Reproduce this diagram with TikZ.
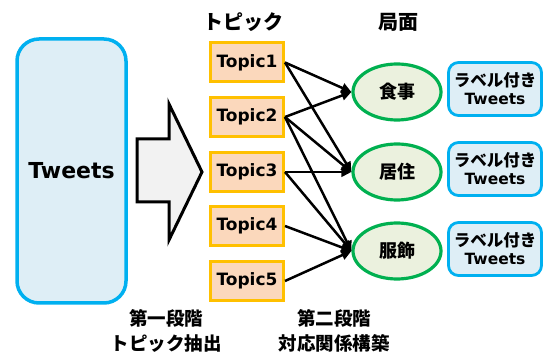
\documentclass[tikz,border=0pt]{standalone}
\usepackage{fontspec}
\setmainfont{DejaVu Sans}
\newfontfamily\jp{Noto Sans CJK JP}
\usetikzlibrary{shapes.geometric,arrows.meta}
\definecolor{cyanb}{HTML}{00B0F0}
\definecolor{bluef}{HTML}{DEEEF6}
\definecolor{gold}{HTML}{FFC000}
\definecolor{peach}{HTML}{FBD8BC}
\definecolor{greenb}{HTML}{00B050}
\definecolor{greenf}{HTML}{EBF1DE}
\definecolor{grayf}{HTML}{F2F2F2}
\tikzset{
  tweetsbox/.style={draw=cyanb, fill=bluef, line width=3.5pt, rounded corners=22pt,
    minimum width=109pt, minimum height=264pt, inner sep=0pt,
    font=\fontsize{22}{26}\selectfont\bfseries},
  topicbox/.style={draw=gold, fill=peach, line width=3pt, minimum width=73pt,
    minimum height=39pt, inner sep=0pt, font=\fontsize{17}{20}\selectfont\bfseries},
  aspect/.style={ellipse, draw=greenb, fill=greenf, line width=3.2pt, minimum width=88pt,
    minimum height=56pt, inner sep=0pt, font=\fontsize{18}{20}\selectfont\jp\bfseries},
  labelbox/.style={draw=cyanb, fill=bluef, line width=2.8pt, rounded corners=10pt,
    minimum width=93pt, minimum height=53pt, inner sep=0pt, align=center,
    font=\fontsize{15.5}{18}\selectfont\bfseries},
  title/.style={font=\fontsize{20}{24}\selectfont\jp\bfseries, inner sep=0pt},
  caption/.style={font=\fontsize{18.5}{25}\selectfont\jp\bfseries, align=center, inner sep=0pt},
  link/.style={line width=2.5pt, -{Triangle[length=10pt,width=9.5pt]}}
}
\begin{document}
\begin{tikzpicture}[x=1pt,y=-1pt]
\useasboundingbox (0,0) rectangle (547,358);
% Tweets
\node[tweetsbox] (tw) at (71.5,171) {Tweets};
% big arrow
\draw[line width=3pt, fill=grayf, line join=miter]
  (137,139) -- (169,139) -- (169,104) -- (202,172) -- (169,240) -- (169,202) -- (137,202) -- cycle;
% titles
\node[title] (tt) at (243,22) {トピック};
\node[title] (at) at (398,22) {局面};
% topics
\node[topicbox] (t1) at (247,62.5) {Topic1};
\node[topicbox] (t2) at (247,117) {Topic2};
\node[topicbox] (t3) at (247,172) {Topic3};
\node[topicbox] (t4) at (247,226) {Topic4};
\node[topicbox] (t5) at (247,281) {Topic5};
% aspects
\node[aspect] (a1) at (397,92) {食事};
\node[aspect] (a2) at (397,172) {居住};
\node[aspect] (a3) at (397,251) {服飾};
% labeled tweets
\node[labelbox] (l1) at (495,89) {{\jp\fontsize{16.5}{18}\selectfont ラベル付き}\\[0pt]Tweets};
\node[labelbox] (l2) at (495,169) {{\jp\fontsize{16.5}{18}\selectfont ラベル付き}\\[0pt]Tweets};
\node[labelbox] (l3) at (495,249) {{\jp\fontsize{16.5}{18}\selectfont ラベル付き}\\[0pt]Tweets};
% links
\draw[link] (t1.east) -- (a1.west);
\draw[link] (t1.east) -- (a2.west);
\draw[link] (t2.east) -- (a1.west);
\draw[link] (t2.east) -- (a2.west);
\draw[link] (t2.east) -- (a3.west);
\draw[link] (t3.east) -- (a2.west);
\draw[link] (t3.east) -- (a3.west);
\draw[link] (t4.east) -- (a3.west);
\draw[link] (t5.east) -- (a3.west);
% captions
\node[caption] (c1) at (166,330.5) {第一段階\\トピック抽出};
\node[caption] (c2) at (334,330.5) {第二段階\\対応関係構築};
\end{tikzpicture}
\end{document}
